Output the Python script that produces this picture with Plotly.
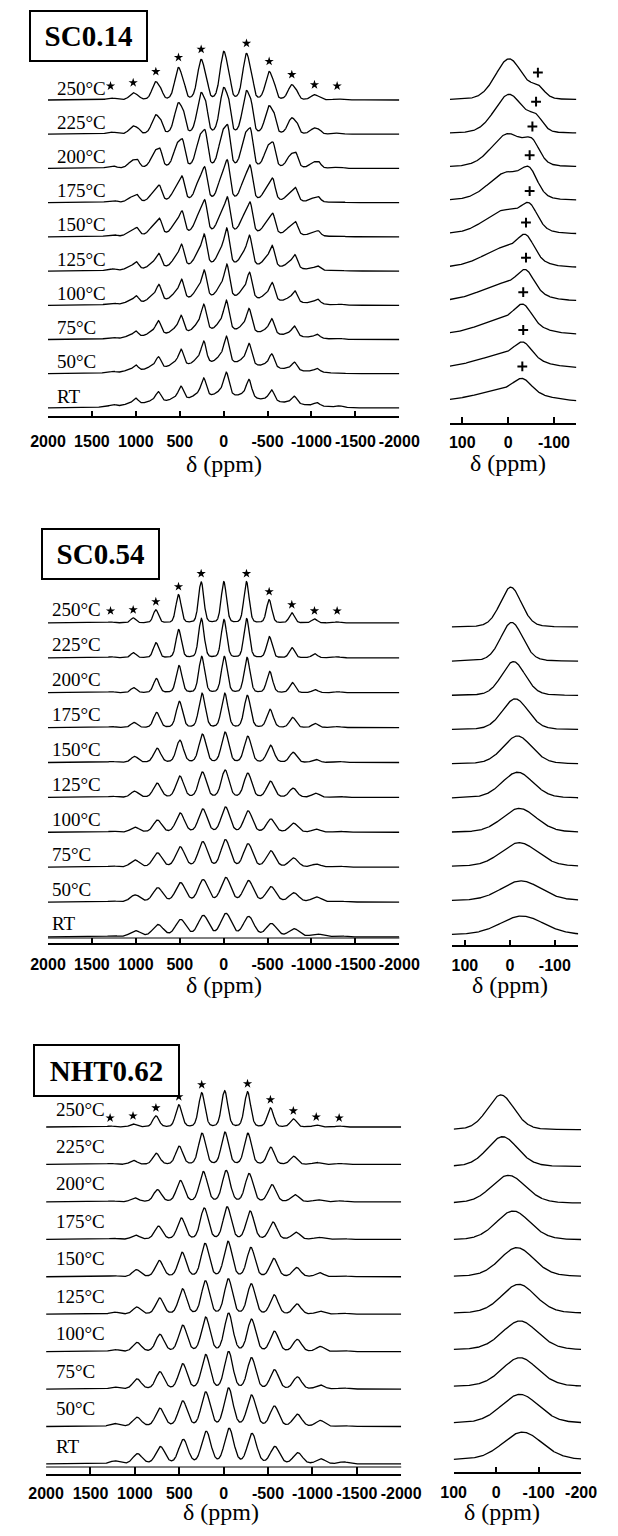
import numpy as np
import plotly.graph_objects as go

# ---------------- data ----------------
TEMPS = ["250°C", "225°C", "200°C", "175°C", "150°C", "125°C", "100°C", "75°C", "50°C", "RT"]
ORDERS = [5, 4, 3, 2, 1, 0, -1, -2, -3, -4, -5]      # spinning-sideband orders (left -> right)
SPIN_SPACING_PPM = 258
SAMPLES = ["SC0.14", "SC0.54", "NHT0.62"]

# sideband peak heights (full spectra, left column), per temperature, orders +5 .. -5
SC014_SIDEBANDS = [
    [2, 7, 18, 32, 40, 48, 46, 28, 15, 5, 1],
    [2, 8, 19, 31, 41, 46, 43, 28, 16, 6, 1],
    [2, 9, 20, 29, 38, 43, 40, 26, 16, 7, 1],
    [2, 8, 17, 26, 35, 42, 37, 24, 15, 6, 1],
    [2, 9, 18, 25, 36, 39, 34, 23, 15, 6, 1],
    [2, 9, 17, 26, 36, 42, 35, 25, 16, 5, 1],
    [2, 9, 20, 25, 34, 40, 32, 22, 14, 6, 1],
    [2, 8, 18, 23, 34, 38, 30, 20, 13, 5, 1],
    [2, 8, 16, 23, 31, 36, 29, 19, 11, 5, 1],
    [3, 9, 15, 20, 28, 34, 27, 17, 11, 5, 2],
]
SC054_SIDEBANDS = [
    [1, 5, 13, 28, 41, 41, 41, 23, 10, 4, 1],
    [1, 5, 15, 28, 39, 38, 39, 21, 10, 4, 1],
    [1, 5, 14, 27, 36, 36, 35, 21, 10, 3, 1],
    [1, 5, 15, 26, 34, 34, 32, 18, 10, 4, 1],
    [1, 6, 14, 22, 28, 30, 26, 17, 10, 3, 1],
    [1, 6, 14, 21, 25, 27, 24, 16, 9, 4, 1],
    [1, 5, 12, 19, 23, 25, 21, 13, 9, 3, 1],
    [1, 7, 14, 20, 25, 27, 23, 16, 9, 3, 1],
    [1, 7, 14, 19, 22, 24, 21, 15, 9, 5, 1],
    [1, 6, 12, 17, 21, 23, 20, 13, 8, 3, 1],
]
NHT062_SIDEBANDS = [
    [1, 3, 11, 22, 34, 36, 35, 19, 8, 2, 1],
    [1, 4, 11, 18, 31, 32, 31, 17, 8, 2, 1],
    [1, 4, 12, 21, 30, 31, 28, 17, 7, 2, 1],
    [1, 4, 13, 21, 31, 32, 28, 17, 7, 2, 1],
    [1, 7, 16, 24, 33, 35, 29, 18, 9, 4, 1],
    [2, 7, 16, 25, 33, 35, 30, 19, 10, 3, 1],
    [2, 9, 17, 26, 34, 38, 32, 20, 12, 5, 1],
    [2, 10, 17, 25, 34, 37, 31, 19, 12, 4, 1],
    [3, 9, 18, 25, 34, 38, 31, 20, 12, 6, 1],
    [3, 10, 17, 24, 32, 35, 30, 17, 11, 5, 2],
]

# central band (right column): main line + shoulder (marked "+") for SC0.14
SC014_MAIN_CENTER = [-2, -2, 0, 2, 5, 5, 5, 5, 5, 2]
SC014_MAIN_FWHM = [70, 75, 85, 95, 105, 115, 125, 135, 145, 160]
SC014_MAIN_AMP = [41, 39, 33, 28, 24, 20, 18, 16, 14, 12]
SC014_SHOULDER_CENTER = [-65, -61, -53, -47, -47, -39, -39, -33, -33, -31]
SC014_SHOULDER_FWHM = [35, 35, 38, 40, 40, 42, 42, 44, 44, 46]
SC014_SHOULDER_AMP = [10, 12, 17, 20, 19, 20, 19, 18, 15, 13]

SC054_CENTER = [-2, -4, -8, -12, -17, -17, -21, -21, -25, -27]
SC054_FWHM = [56, 58, 62, 68, 76, 82, 90, 96, 104, 115]
SC054_AMP = [40, 39, 34, 31, 28, 26, 24, 24, 20, 19]

NHT062_CENTER = [-11, -15, -29, -40, -49, -53, -56, -56, -56, -62]
NHT062_FWHM = [75, 85, 95, 95, 95, 95, 100, 100, 105, 110]
NHT062_AMP = [35, 30, 28, 29, 29, 29, 29, 29, 29, 28]

LEFT_TICKS = [2000, 1500, 1000, 500, 0, -500, -1000, -1500, -2000]
LEFT_TICK_TEXT = ["2000", "1500", "1000", "500", "0", "-500", "-1000", "-1500", "-2000"]
RIGHT_TICKS_A = [100, 0, -100]
RIGHT_TICK_TEXT_A = ["100", "0", "-100"]
RIGHT_TICKS_B = [100, 0, -100, -200]
RIGHT_TICK_TEXT_B = ["100", "0", "-100", "-200"]

# ---------------- line shape model ----------------
ETA = 0.2


def pv(x, c, fwhm):
    d = (x - c) / (fwhm / 2.0)
    return (1 - ETA) * np.exp(-np.log(2) * d ** 2) + ETA / (1 + d ** 2)


def band(x, comps, k=1.0):
    y = np.zeros_like(x, dtype=float)
    for c, w, a in comps:
        y += a * pv(x, c, w * k)
    return y


def full_spectrum(x, heights, comps, k):
    grid = np.linspace(-700, 700, 5601)
    m = band(grid, comps, k).max()
    y = np.zeros_like(x, dtype=float)
    for n, h in zip(ORDERS, heights):
        y += h * band(x - n * SPIN_SPACING_PPM, comps, k) / m
    return y


def comps_for(sample, i):
    if sample == 0:
        return [(SC014_MAIN_CENTER[i], SC014_MAIN_FWHM[i], SC014_MAIN_AMP[i]),
                (SC014_SHOULDER_CENTER[i], SC014_SHOULDER_FWHM[i], SC014_SHOULDER_AMP[i])]
    if sample == 1:
        return [(SC054_CENTER[i], SC054_FWHM[i], SC054_AMP[i])]
    return [(NHT062_CENTER[i], NHT062_FWHM[i], NHT062_AMP[i])]


SIDEBANDS = [SC014_SIDEBANDS, SC054_SIDEBANDS, NHT062_SIDEBANDS]

# ---------------- geometry / style ----------------
W, H = 618, 1536
FONT_SERIF = "Liberation Serif"
FONT_SANS = "Liberation Sans"

LEFT_PANELS = [
    dict(x0=32, x1=407, axis=416, top=30, rt_off=8, step=34.22, label_x=39, label_dy=12,
         ticklen=5, standoff=10, box=None, star_gap=10, star_min=14, k=1.4,
         title_xy=(220, 464), box_xy=(16, 10, 135, 62)),
    dict(x0=32, x1=407, axis=943, top=560, rt_off=6, step=34.9, label_x=34, label_dy=13,
         ticklen=5, standoff=6, box=5, star_gap=8, star_min=12, k=1.25,
         title_xy=(220, 985), box_xy=(29, 528, 148, 580)),
    dict(x0=30, x1=409, axis=1474, top=1070, rt_off=10, step=37.44, label_x=38, label_dy=18,
         ticklen=7, standoff=4, box=7, star_gap=8, star_min=9, k=1.1,
         title_xy=(217, 1512), box_xy=(21, 1044, 168, 1097)),
]
RIGHT_PANELS = [
    dict(x0=461, x1=596, rng=(127, -149), axis=423, top=45, rt_off=21, step=33.56,
         ticks=RIGHT_TICKS_A, ticktext=RIGHT_TICK_TEXT_A, ticklen=6, standoff=4,
         title_xy=(523, 463)),
    dict(x0=463, x1=598, rng=(129, -152), axis=945, top=570, rt_off=10, step=34.2,
         ticks=RIGHT_TICKS_A, ticktext=RIGHT_TICK_TEXT_A, ticklen=5, standoff=5,
         title_xy=(525, 985)),
    dict(x0=465, x1=601, rng=(100, -200), axis=1472, top=1080, rt_off=12, step=36.67,
         ticks=RIGHT_TICKS_B, ticktext=RIGHT_TICK_TEXT_B, ticklen=5, standoff=5,
         title_xy=(517, 1512)),
]

X_LEFT = np.linspace(2000, -2000, 2401)

fig = go.Figure()
layout = dict(width=W, height=H, margin=dict(l=0, r=0, t=0, b=0),
              paper_bgcolor="white", plot_bgcolor="white", showlegend=False)
annotations = []
shapes = []

LINE = dict(color="black", width=1.3)


def axis_common(ticklen, standoff):
    return dict(showline=True, linecolor="black", linewidth=1.5, ticks="inside",
                ticklen=ticklen, tickwidth=1.5, tickcolor="black", showgrid=False,
                zeroline=False,
                tickfont=dict(family=FONT_SANS, size=16, color="black", weight=700),
                ticklabelstandoff=standoff, fixedrange=True)


for s in range(3):
    L = LEFT_PANELS[s]
    R = RIGHT_PANELS[s]
    ax_l = 2 * s + 1
    ax_r = 2 * s + 2
    xl = "x" if ax_l == 1 else f"x{ax_l}"
    yl = "y" if ax_l == 1 else f"y{ax_l}"
    xr = f"x{ax_r}"
    yr = f"y{ax_r}"

    # left axes
    layout["xaxis" if ax_l == 1 else f"xaxis{ax_l}"] = dict(
        domain=[L["x0"] / W, L["x1"] / W], anchor=yl, range=[2000, -2000],
        tickvals=LEFT_TICKS, ticktext=LEFT_TICK_TEXT, **axis_common(L["ticklen"], L["standoff"]))
    layout["yaxis" if ax_l == 1 else f"yaxis{ax_l}"] = dict(
        domain=[1 - L["axis"] / H, 1 - L["top"] / H], anchor=xl,
        range=[0, L["axis"] - L["top"]], visible=False, fixedrange=True)
    # right axes
    x_right = np.linspace(R["rng"][0], R["rng"][1], 600)
    layout[f"xaxis{ax_r}"] = dict(
        domain=[R["x0"] / W, R["x1"] / W], anchor=yr, range=list(R["rng"]),
        tickvals=R["ticks"], ticktext=R["ticktext"], **axis_common(R["ticklen"], R["standoff"]))
    layout[f"yaxis{ax_r}"] = dict(
        domain=[1 - R["axis"] / H, 1 - R["top"] / H], anchor=xr,
        range=[0, R["axis"] - R["top"]], visible=False, fixedrange=True)

    for i, temp in enumerate(TEMPS):
        comps = comps_for(s, i)
        off_l = L["rt_off"] + (len(TEMPS) - 1 - i) * L["step"]
        yl_vals = off_l + full_spectrum(X_LEFT, SIDEBANDS[s][i], comps, L["k"])
        fig.add_trace(go.Scatter(x=X_LEFT, y=yl_vals, mode="lines", line=LINE,
                                 xaxis=xl, yaxis=yl, hoverinfo="skip"))
        annotations.append(dict(text=temp, xref="paper", yref=yl, x=L["label_x"] / W,
                                y=off_l + L["label_dy"], xanchor="left", yanchor="middle",
                                showarrow=False,
                                font=dict(family=FONT_SERIF, size=19, color="black")))
        off_r = R["rt_off"] + (len(TEMPS) - 1 - i) * R["step"]
        yr_vals = off_r + band(x_right, comps)
        fig.add_trace(go.Scatter(x=x_right, y=yr_vals, mode="lines", line=LINE,
                                 xaxis=xr, yaxis=yr, hoverinfo="skip"))

        # shoulder markers (+) for SC0.14
        if s == 0:
            cb = SC014_SHOULDER_CENTER[i]
            yb = off_r + band(np.array([float(cb)]), comps)[0] + 12
            fig.add_trace(go.Scatter(x=[cb], y=[yb], mode="markers", xaxis=xr, yaxis=yr,
                                     hoverinfo="skip",
                                     marker=dict(symbol="cross-thin", size=7,
                                                 line=dict(width=2, color="black"))))
        # spinning sideband asterisks on the top trace
        if i == 0:
            center = comps[0][0]
            sx, sy = [], []
            for n in ORDERS:
                if n == 0:
                    continue
                px = center + n * SPIN_SPACING_PPM
                h = np.interp(-px, -X_LEFT, yl_vals) - off_l
                sx.append(px)
                sy.append(off_l + max(h + L["star_gap"], L["star_min"]))
            fig.add_trace(go.Scatter(x=sx, y=sy, mode="markers", xaxis=xl, yaxis=yl,
                                     hoverinfo="skip",
                                     marker=dict(symbol="star", size=7, color="black")))

    # axis titles
    for (tx, ty) in (L["title_xy"], R["title_xy"]):
        annotations.append(dict(text="δ (ppm)", xref="paper", yref="paper", x=tx / W,
                                y=1 - ty / H, xanchor="center", yanchor="middle",
                                showarrow=False,
                                font=dict(family=FONT_SERIF, size=24, color="black")))
    # sample label box
    bx0, by0, bx1, by1 = L["box_xy"]
    annotations.append(dict(text=SAMPLES[s], xref="paper", yref="paper",
                            x=(bx0 + bx1) / 2 / W, y=1 - (by0 + by1) / 2 / H,
                            xanchor="center", yanchor="middle", showarrow=False,
                            width=bx1 - bx0 - 4, height=by1 - by0 - 4, borderpad=0,
                            bordercolor="black", borderwidth=2, bgcolor="white",
                            font=dict(family=FONT_SERIF, size=29, color="black", weight=700)))
    # double-line axis box for lower panels
    if L["box"]:
        shapes.append(dict(type="line", xref=f"{xl} domain", yref=yl, x0=0, x1=1,
                           y0=L["box"], y1=L["box"], line=dict(color="black", width=1)))

layout["annotations"] = annotations
layout["shapes"] = shapes
fig.update_layout(**layout)
fig.write_html("out.html", config={"displayModeBar": False},
               post_script="document.body.style.margin='0';document.body.style.overflow='hidden';")
